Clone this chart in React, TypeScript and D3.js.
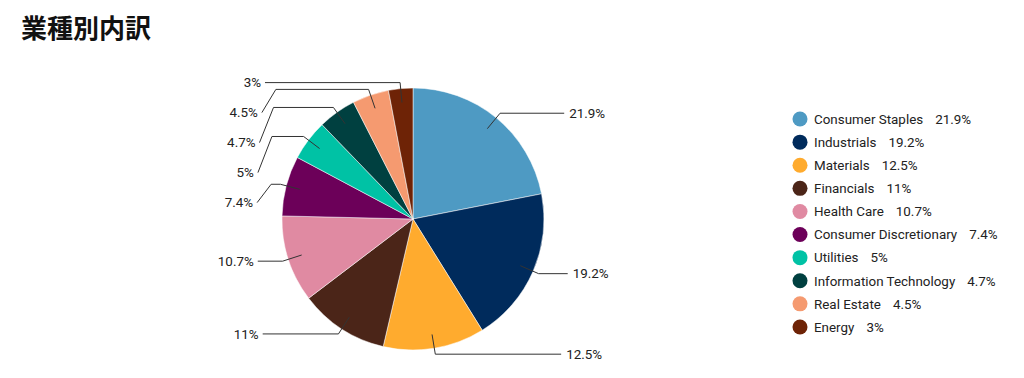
import React from "react";
import * as d3 from "d3";

const categories = [
  "Consumer Staples",
  "Industrials",
  "Materials",
  "Financials",
  "Health Care",
  "Consumer Discretionary",
  "Utilities",
  "Information Technology",
  "Real Estate",
  "Energy",
];
const values = [21.9, 19.2, 12.5, 11, 10.7, 7.4, 5, 4.7, 4.5, 3];
const colors = [
  "#4E9AC3",
  "#002B5C",
  "#FFAB2E",
  "#4B2518",
  "#E08AA2",
  "#6C0059",
  "#00C2A5",
  "#004040",
  "#F59A70",
  "#6E2306",
];
const title = "業種別内訳";

const W = 1024;
const H = 378;
const cx = 413;
const cy = 219;
const R = 131;
const FONT = "Roboto, 'Noto Sans', sans-serif";
const FS = 13.4;

type Lab = {
  i: number;
  left: boolean;
  inner: [number, number];
  elbow: [number, number];
  ny: number;
  y: number;
  ax: number;
};

export default function App() {
  const pie = d3
    .pie<number>()
    .sort(null)
    .value((d) => d)
    .startAngle(0)
    .endAngle(Math.PI * 2);
  const arcs = pie(values);
  const arcGen = d3.arc<d3.PieArcDatum<number>>().innerRadius(0).outerRadius(R);

  const pt = (a: number, r: number): [number, number] => [
    cx + Math.sin(a) * r,
    cy - Math.cos(a) * r,
  ];

  const labs: Lab[] = arcs.map((a, i) => {
    const mid = (a.startAngle + a.endAngle) / 2;
    const elbow = pt(mid, R + 6);
    return {
      i,
      left: Math.sin(mid) < 0,
      inner: pt(mid, R - 14),
      elbow,
      ny: elbow[1],
      y: elbow[1],
      ax: 0,
    };
  });

  const gap = 30;
  [true, false].forEach((side) => {
    const group = labs.filter((l) => l.left === side).sort((a, b) => a.ny - b.ny);
    let prev = -Infinity;
    group.forEach((l) => {
      l.y = Math.max(l.ny, prev + gap);
      prev = l.y;
    });
  });

  labs.forEach((l) => {
    const dy = l.y - cy;
    const off = 156 - 0.00043 * dy * dy;
    l.ax = l.left ? cx - off : cx + off;
  });

  const connector = (l: Lab) => {
    const p = d3.path();
    p.moveTo(l.inner[0], l.inner[1]);
    p.lineTo(l.elbow[0], l.elbow[1]);
    if (Math.abs(l.y - l.ny) > 1) {
      const crook = l.left ? l.ax + 14 : l.ax - 14;
      if ((l.left && l.elbow[0] > crook) || (!l.left && l.elbow[0] < crook)) {
        p.lineTo(crook, l.ny);
      }
      p.lineTo(l.ax, l.y);
    } else {
      p.lineTo(l.ax, l.y);
    }
    return p.toString();
  };

  const legendY = d3
    .scaleBand<number>()
    .domain(categories.map((_, i) => i))
    .range([107.5, 107.5 + 23.1 * categories.length]);

  return (
    <svg
      width={W}
      height={H}
      style={{ position: "absolute", left: 0, top: 0, background: "#fff" }}
      fontFamily={FONT}
    >
      <text
        x={21}
        y={38}
        fontSize={26}
        fontWeight="bold"
        fill="#111"
        fontFamily="'Noto Sans CJK JP', sans-serif"
      >
        {title}
      </text>
      <g>
        {arcs.map((a, i) => (
          <path
            key={i}
            d={arcGen(a) || ""}
            transform={`translate(${cx},${cy})`}
            fill={colors[i]}
            stroke="#fff"
            strokeWidth={0.5}
          />
        ))}
      </g>
      <g>
        {labs.map((l) => (
          <g key={l.i}>
            <path d={connector(l)} fill="none" stroke="#333" strokeWidth={1} />
            <text
              x={l.left ? l.ax - 4 : l.ax + 5}
              y={l.y}
              dy="0.36em"
              textAnchor={l.left ? "end" : "start"}
              fontSize={FS}
              fill="#222"
            >
              {`${values[l.i]}%`}
            </text>
          </g>
        ))}
      </g>
      <g>
        {categories.map((c, i) => {
          const y = (legendY(i) || 0) + legendY.bandwidth() / 2;
          return (
            <g key={c}>
              <circle cx={800} cy={y} r={7.5} fill={colors[i]} />
              <text x={814} y={y} dy="0.36em" fontSize={FS} fill="#222">
                {c}
                <tspan dx={12}>{`${values[i]}%`}</tspan>
              </text>
            </g>
          );
        })}
      </g>
    </svg>
  );
}
